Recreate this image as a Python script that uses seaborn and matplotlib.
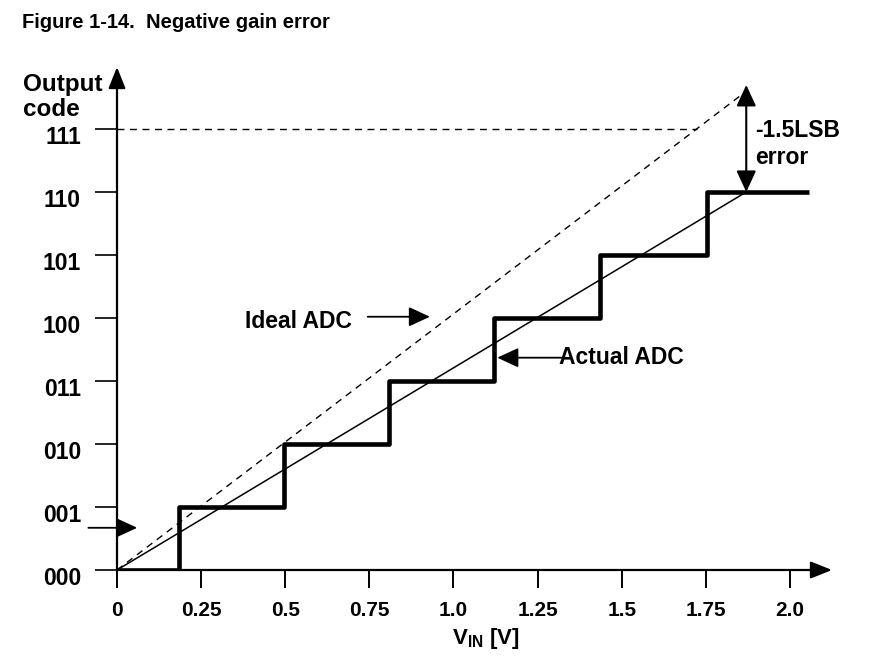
import matplotlib
matplotlib.use("Agg")
import matplotlib.pyplot as plt
import matplotlib.transforms as mtransforms
import pandas as pd
import seaborn as sns

# values
vin_ticks = [0, 0.25, 0.5, 0.75, 1.0, 1.25, 1.5, 1.75, 2.0]
vin_labels = ["0", "0.25", "0.5", "0.75", "1.0", "1.25", "1.5", "1.75", "2.0"]
code_ticks = [0, 1, 2, 3, 4, 5, 6, 7]
code_labels = ["000", "001", "010", "011", "100", "101", "110", "111"]

# actual ADC staircase (transition voltages and codes)
step_vin = [0, 0.185, 0.497, 0.807, 1.12, 1.435, 1.753, 2.057]
step_code = [0, 1, 2, 3, 4, 5, 6, 6]

# transfer lines
ideal_vin = [0, 1.87]
ideal_code = [0, 7.6]
actual_vin = [0, 1.87]
actual_code = [0, 6.0]

sns.set_theme(style="white")
plt.rcParams["font.family"] = ["Liberation Sans", "DejaVu Sans"]
plt.rcParams["font.weight"] = "bold"
plt.rcParams["text.color"] = "black"
narrow = ["Liberation Sans Narrow", "Liberation Sans", "DejaVu Sans"]
plt.rcParams["mathtext.fontset"] = "custom"
plt.rcParams["mathtext.rm"] = "Liberation Sans:bold"
plt.rcParams["mathtext.it"] = "Liberation Sans:bold"
plt.rcParams["mathtext.bf"] = "Liberation Sans:bold"

fig = plt.figure(figsize=(8.87, 6.67), dpi=100)
px_v = 336.5   # pixels per volt
px_c = 63.0    # pixels per code
ax = fig.add_axes([117 / 887, 97 / 667, 715 / 887, 503 / 667])
ax.set_xlim(0, 715 / px_v)
ax.set_ylim(0, 503 / px_c)
for s in ax.spines.values():
    s.set_visible(False)

# axes with arrow heads
arrow_kw = dict(arrowstyle="-|>,head_length=0.65,head_width=0.26", color="black",
                lw=1.6, shrinkA=0, shrinkB=0, mutation_scale=20)
ax.annotate("", xy=(1, 0), xytext=(0, 0), xycoords="axes fraction", arrowprops=arrow_kw)
ax.annotate("", xy=(0, 1), xytext=(0, 0), xycoords="axes fraction", arrowprops=arrow_kw)

steps = pd.DataFrame({"vin": step_vin, "code": step_code})
sns.lineplot(data=steps, x="vin", y="code", ax=ax, color="black", lw=3.3,
             drawstyle="steps-post", estimator=None, sort=False, solid_capstyle="butt")

ideal = pd.DataFrame({"vin": ideal_vin, "code": ideal_code})
sns.lineplot(data=ideal, x="vin", y="code", ax=ax, color="black", lw=1.0,
             linestyle=(0, (5, 4)), estimator=None, sort=False)
actual = pd.DataFrame({"vin": actual_vin, "code": actual_code})
sns.lineplot(data=actual, x="vin", y="code", ax=ax, color="black", lw=1.1,
             estimator=None, sort=False)

# dashed level for 111 up to the ideal line
slope = ideal_code[1] / ideal_vin[1]
ax.plot([0, 7 / slope], [7, 7], color="black", lw=1.0, linestyle=(0, (5, 4)))

ax.set_xticks(vin_ticks)
ax.set_xticklabels(vin_labels, family=narrow, fontsize=15, fontweight="bold")
ax.set_yticks(code_ticks)
ax.set_yticklabels(code_labels, fontsize=16.5, fontweight="bold")
ax.tick_params(axis="x", bottom=True, direction="out", length=13, width=1.4,
               pad=9, colors="black")
ax.tick_params(axis="y", left=True, direction="out", length=16, width=1.2,
               pad=10, colors="black")
shift = mtransforms.ScaledTranslation(0, -6 / 100, fig.dpi_scale_trans)
for lab in ax.get_yticklabels():
    lab.set_transform(lab.get_transform() + shift)
ax.set_xlabel("")
ax.set_ylabel("")

ax.text(0.5 * (vin_ticks[4] + vin_ticks[5]) - 0.13, -1.08, r"V$_{\rm IN}$ [V]",
        family=narrow, fontsize=16, fontweight="bold", ha="left", va="center")

fig.text(22 / 887, 1 - 22 / 667, "Figure 1-14.  Negative gain error",
         fontsize=14.5, fontweight="bold", ha="left", va="center")
fig.text(23 / 887, 1 - 73 / 667, "Output\ncode", fontsize=17.5, fontweight="bold",
         ha="left", va="top", linespacing=1.1)

# annotations
head = "-|>,head_length=0.65,head_width=0.3"
ax.text(0.38, 3.94, "Ideal ADC", fontsize=16.5, fontweight="bold", ha="left", va="center")
ax.annotate("", xy=(0.93, 4.02), xytext=(0.745, 4.02),
            arrowprops=dict(arrowstyle=head, color="black", lw=1.3,
                            shrinkA=0, shrinkB=0, mutation_scale=20))
ax.text(1.315, 3.37, "Actual ADC", fontsize=16.5, fontweight="bold", ha="left", va="center")
ax.annotate("", xy=(1.13, 3.37), xytext=(1.32, 3.37),
            arrowprops=dict(arrowstyle=head, color="black", lw=1.3,
                            shrinkA=0, shrinkB=0, mutation_scale=20))
ax.annotate("", xy=(0.06, 0.67), xytext=(-0.085, 0.67), annotation_clip=False,
            arrowprops=dict(arrowstyle=head, color="black", lw=1.3,
                            shrinkA=0, shrinkB=0, mutation_scale=20))

both = "<|-|>,head_length=0.65,head_width=0.3"
ax.annotate("", xy=(1.87, 6.0), xytext=(1.87, 7.7),
            arrowprops=dict(arrowstyle=both, color="black", lw=1.5,
                            shrinkA=0, shrinkB=0, mutation_scale=20))
ax.text(1.895, 6.76, "-1.5LSB\nerror", fontsize=16.5, fontweight="bold",
        ha="left", va="center", linespacing=1.25)

fig.savefig("out.png", dpi=100)
